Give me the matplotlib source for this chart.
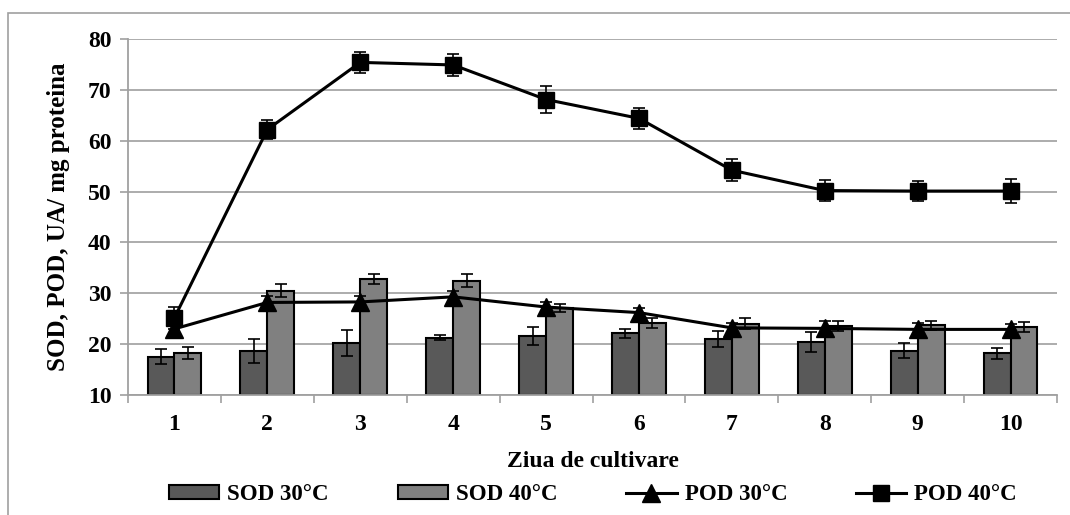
import matplotlib.pyplot as plt
import numpy as np
from matplotlib.patches import Rectangle
from matplotlib.lines import Line2D
from matplotlib.ticker import FixedLocator

days = ['1', '2', '3', '4', '5', '6', '7', '8', '9', '10']

sod30 = [17.5, 18.7, 20.2, 21.3, 21.6, 22.1, 21.0, 20.4, 18.7, 18.2]
sod30_err = [1.5, 2.4, 2.5, 0.4, 1.7, 0.8, 1.6, 2.0, 1.5, 1.1]
sod40 = [18.2, 30.5, 32.8, 32.5, 27.1, 24.1, 24.0, 23.6, 23.7, 23.4]
sod40_err = [1.2, 1.3, 1.0, 1.2, 0.8, 1.0, 1.1, 1.0, 0.9, 1.0]
pod30 = [23.0, 28.2, 28.3, 29.3, 27.3, 26.2, 23.2, 23.1, 22.9, 22.9]
pod30_err = [1.2, 1.2, 1.2, 1.2, 1.0, 1.0, 1.0, 1.4, 1.2, 1.1]
pod40 = [25.2, 62.2, 75.4, 74.9, 68.1, 64.4, 54.2, 50.2, 50.1, 50.1]
pod40_err = [2.2, 1.9, 2.0, 2.2, 2.6, 2.0, 2.2, 2.0, 1.9, 2.4]

plt.rcParams['font.family'] = ['Liberation Serif', 'DejaVu Serif']
plt.rcParams['font.weight'] = 'bold'

fig = plt.figure(figsize=(10.7, 5.15), dpi=100)
ax = fig.add_axes([128 / 1070, 1 - 395 / 515, 929 / 1070, 356 / 515])

# outer chart frame (right and bottom edges fall outside the image)
fig.patches.append(Rectangle((8 / 1070, -0.1), 1.1, 1.1 - 13 / 515,
                             transform=fig.transFigure, fill=False,
                             edgecolor='#a0a0a0', linewidth=1.2))

x = np.arange(len(days))
w = 0.29
ekw = dict(ecolor='black', elinewidth=1.2, capsize=4.5, capthick=1.2)

ax.bar(x - w / 2, np.array(sod30) - 10, w, bottom=10, color='#595959',
       edgecolor='black', linewidth=1.5, zorder=2)
ax.bar(x + w / 2, np.array(sod40) - 10, w, bottom=10, color='#808080',
       edgecolor='black', linewidth=1.5, zorder=2)
ax.errorbar(x - w / 2, sod30, yerr=sod30_err, fmt='none', zorder=3, **ekw)
ax.errorbar(x + w / 2, sod40, yerr=sod40_err, fmt='none', zorder=3, **ekw)

ax.errorbar(x, pod30, yerr=pod30_err, color='black', linewidth=2.2,
            marker='^', markersize=13, zorder=4, **ekw)
ax.errorbar(x, pod40, yerr=pod40_err, color='black', linewidth=2.2,
            marker='s', markersize=12, zorder=5, **ekw)

ax.set_xlim(-0.5, 9.5)
ax.set_ylim(10, 80)
ax.set_yticks(range(10, 81, 10))
ax.yaxis.grid(True, color='#a6a6a6', linewidth=1.3)
ax.set_axisbelow(True)

ax.set_xticks(x)
ax.set_xticklabels(days)
ax.xaxis.set_minor_locator(FixedLocator(np.arange(-0.5, 10, 1)))
ax.tick_params(axis='x', which='major', length=0, pad=14, labelsize=17)
ax.tick_params(axis='x', which='minor', length=6, color='#a0a0a0', width=1.2)
ax.tick_params(axis='y', length=6, color='#a0a0a0', width=1.2, labelsize=17, pad=6)

for s in ['top', 'right']:
    ax.spines[s].set_visible(False)
for s in ['left', 'bottom']:
    ax.spines[s].set_color('#a0a0a0')
    ax.spines[s].set_linewidth(1.3)

ax.set_xlabel('Ziua de cultivare', fontsize=17, fontweight='bold', labelpad=11)
ax.set_ylabel('SOD, POD, UA/ mg proteina', fontsize=18, fontweight='bold', labelpad=13)

handles = [
    Rectangle((0, 0), 1, 1, facecolor='#595959', edgecolor='black', linewidth=1.5),
    Rectangle((0, 0), 1, 1, facecolor='#808080', edgecolor='black', linewidth=1.5),
    Line2D([], [], color='black', linewidth=2.2, marker='^', markersize=13),
    Line2D([], [], color='black', linewidth=2.2, marker='s', markersize=12),
]
labels = ['SOD 30°C', 'SOD 40°C', 'POD 30°C', 'POD 40°C']
fig.legend(handles, labels, loc='center', bbox_to_anchor=(593 / 1070, 1 - 495 / 515),
           ncol=4, frameon=False, fontsize=16.5, handlelength=2.2, handleheight=0.55,
           handletextpad=0.35, columnspacing=3.0, borderpad=0)

fig.savefig('out.png', dpi=100)
